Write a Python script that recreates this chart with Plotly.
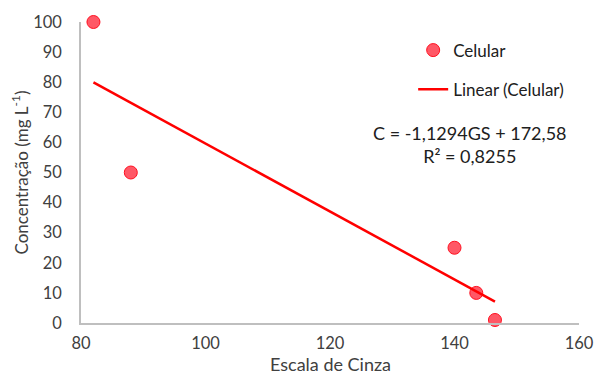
import plotly.graph_objects as go

# Data
gray_scale = [82, 88, 140, 143.5, 146.5]
concentration = [100, 50, 25, 10, 1]
slope = -1.1294
intercept = 172.58
equation_text = "C = -1,1294GS + 172,58<br>R² = 0,8255"
x_title = "Escala de Cinza"
y_title = "Concentração (mg L<sup>-1</sup>)"
x_ticks = [80, 100, 120, 140, 160]
y_ticks = [0, 10, 20, 30, 40, 50, 60, 70, 80, 90, 100]

x_line = [min(gray_scale), max(gray_scale)]
y_line = [slope * v + intercept for v in x_line]

FONT = "Lato"
TXT = "#404040"

fig = go.Figure()
fig.add_trace(go.Scatter(
    x=gray_scale, y=concentration, mode="markers", name="Celular",
    marker=dict(size=13, color="rgba(255,70,85,0.9)", line=dict(color="#FF1020", width=1)),
    cliponaxis=False, legendgroup="a",
))
fig.add_trace(go.Scatter(
    x=x_line, y=y_line, mode="lines", name="Linear (Celular)",
    line=dict(color="#FF0000", width=2.5), cliponaxis=False, legendgroup="b",
))

fig.add_annotation(
    x=0.781, y=0.594, xref="paper", yref="paper", text=equation_text,
    xanchor="center", yanchor="middle",
    showarrow=False, align="center", font=dict(family=FONT, size=18, color="#202020"),
)
# axis titles
fig.add_annotation(
    x=0.5, y=-0.178, xref="paper", yref="paper", text=x_title,
    xanchor="center", yanchor="bottom", showarrow=False,
    font=dict(family=FONT, size=18, color=TXT),
)
fig.add_annotation(
    x=-0.1225, y=0.50, xref="paper", yref="paper", text=y_title,
    xanchor="center", yanchor="middle", textangle=-90, showarrow=False,
    font=dict(family=FONT, size=17, color=TXT),
)

fig.update_layout(
    width=595, height=374,
    margin=dict(l=81, r=16, t=22, b=51, autoexpand=False),
    paper_bgcolor="white", plot_bgcolor="white",
    font=dict(family=FONT, size=16, color=TXT),
    showlegend=True,
    legend=dict(x=0.667, y=0.965, xanchor="left", yanchor="top",
                traceorder="grouped", tracegroupgap=14,
                font=dict(family=FONT, size=17, color="#202020"),
                bgcolor="rgba(0,0,0,0)"),
    xaxis=dict(range=[80, 160], tickvals=x_ticks, showgrid=False, zeroline=False,
               showline=True, linecolor="#BFBFBF", linewidth=1.5, ticks="",
               ticklabelstandoff=4,
               tickfont=dict(family=FONT, size=16.5, color=TXT)),
    yaxis=dict(range=[0, 100], tickvals=y_ticks, showgrid=False, zeroline=False,
               showline=True, linecolor="#BFBFBF", linewidth=1.5,
               ticks="outside", ticklen=14, tickcolor="rgba(0,0,0,0)",
               tickfont=dict(family=FONT, size=16.5, color=TXT)),
)

fig.write_html("out.html")
